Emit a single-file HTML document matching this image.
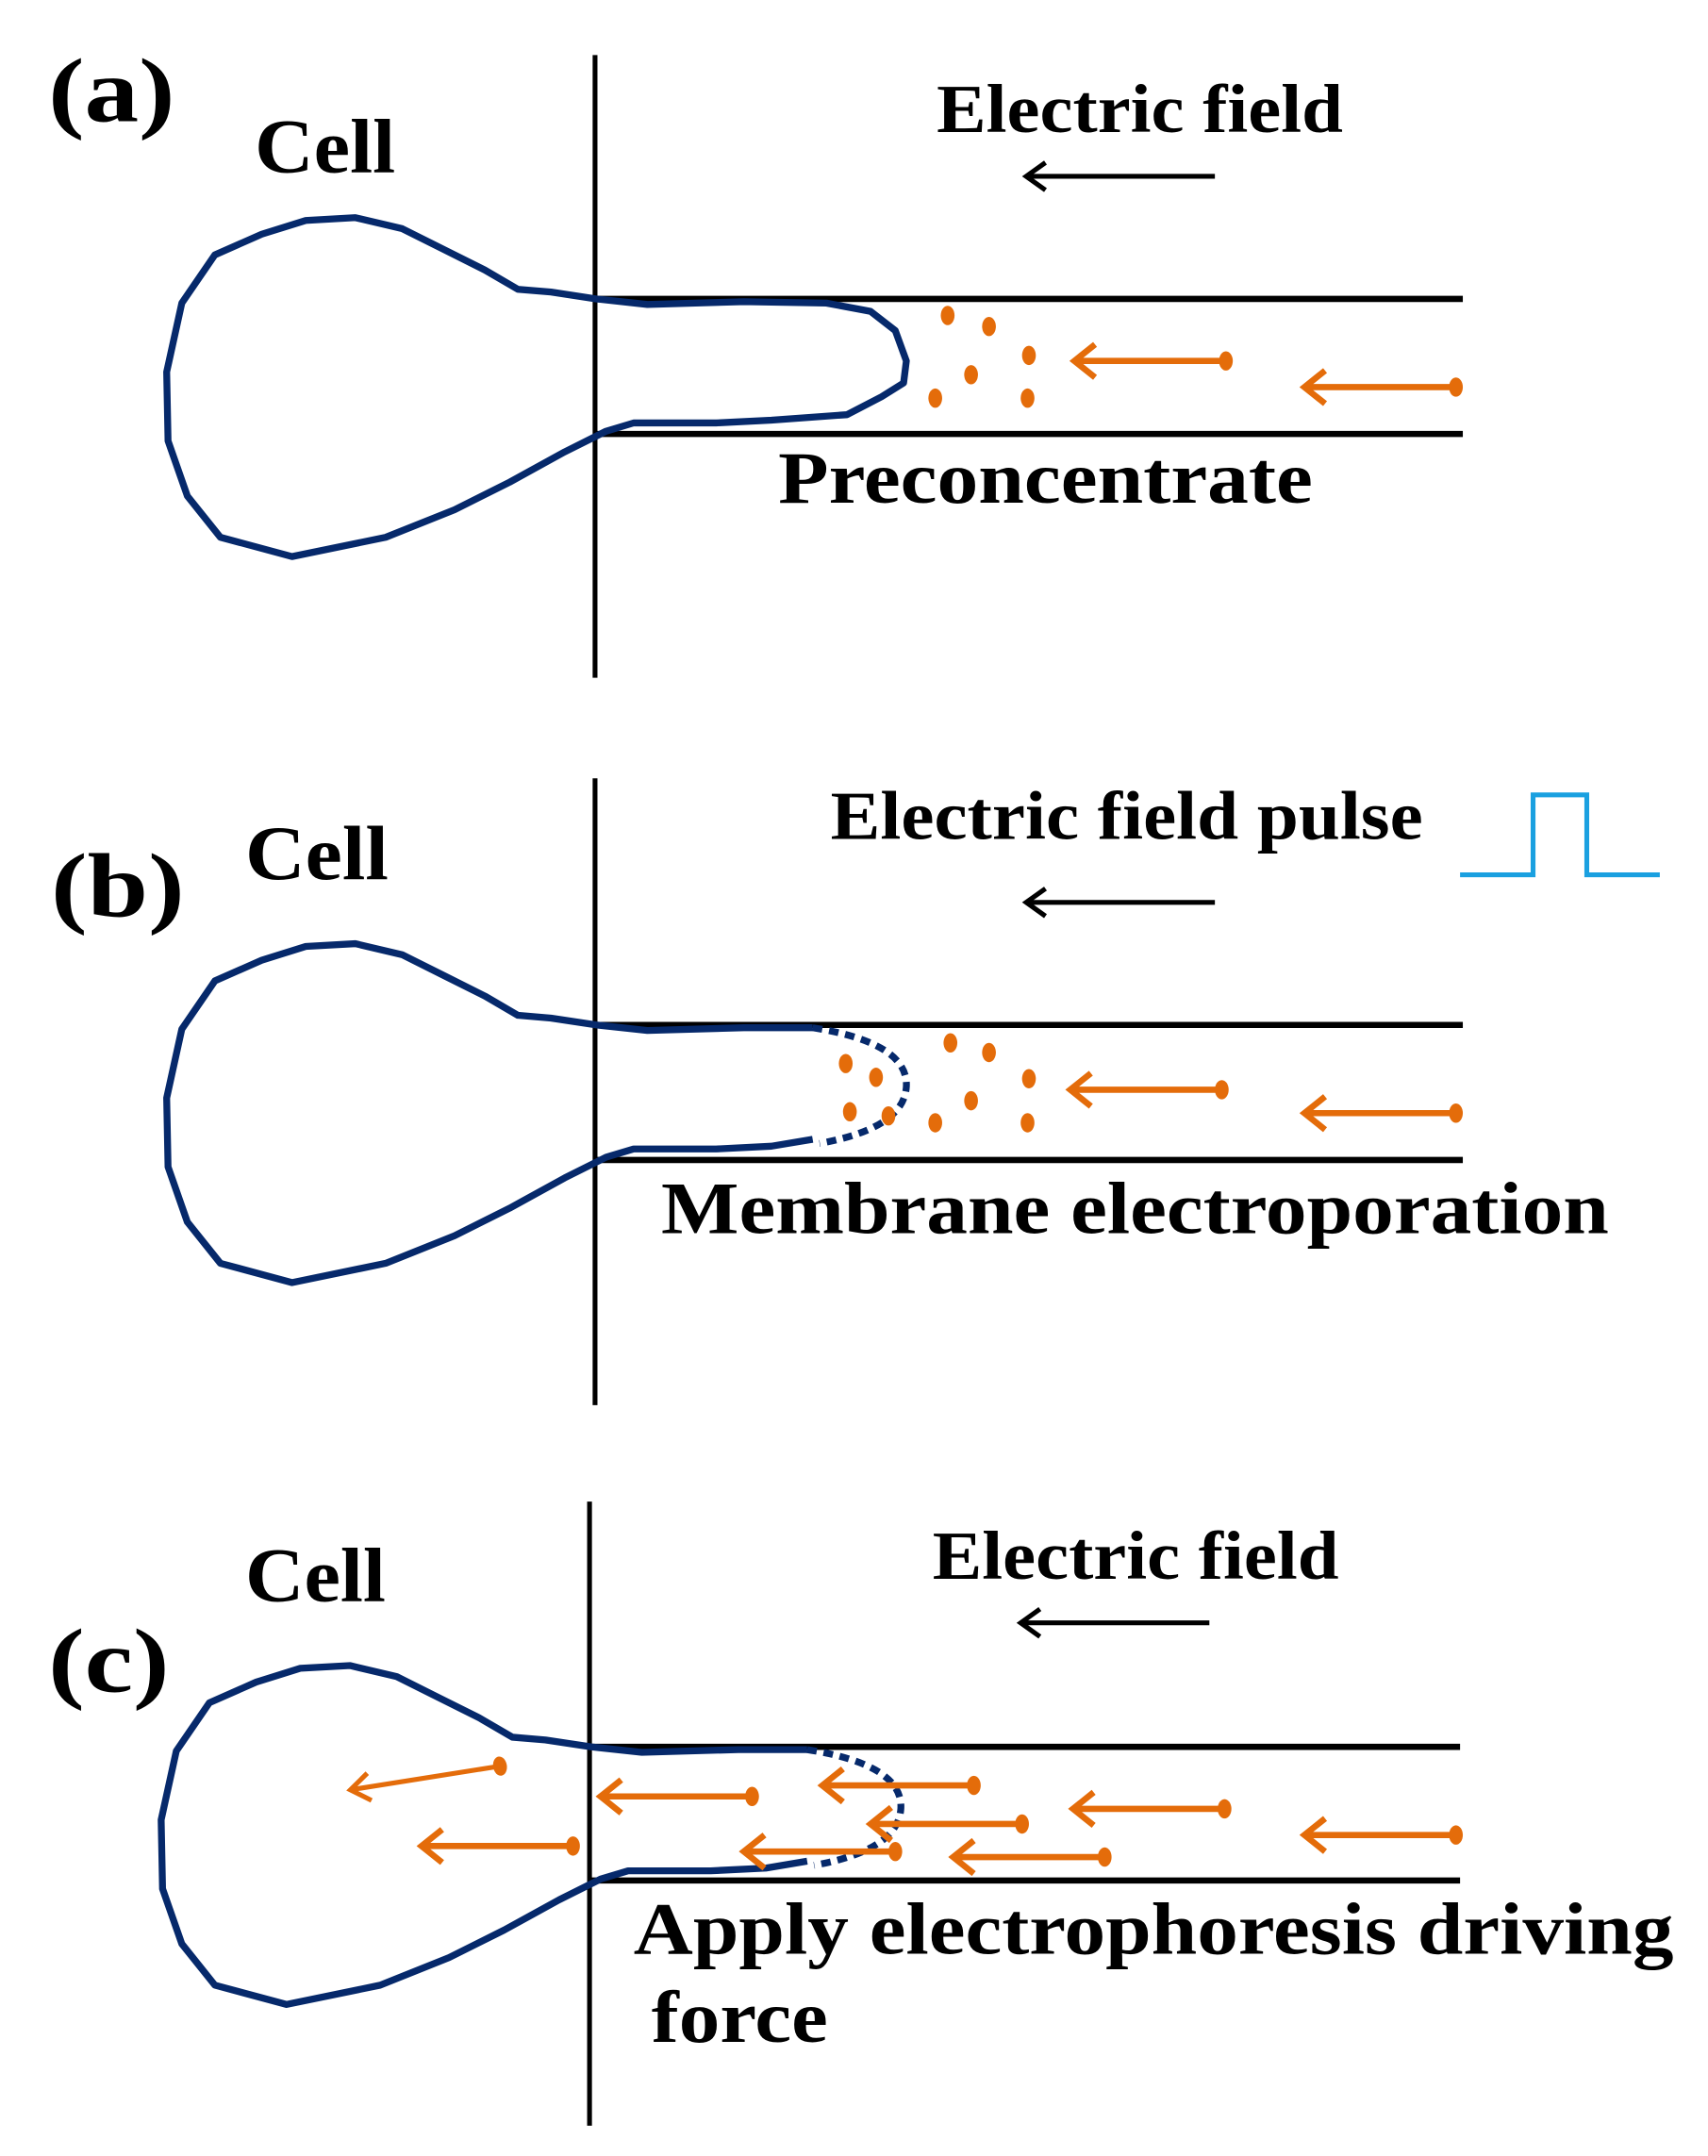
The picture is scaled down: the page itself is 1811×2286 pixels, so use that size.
<!DOCTYPE html>
<html><head><meta charset="utf-8"><style>
html,body{margin:0;padding:0;background:#fff;}
svg{display:block;}
text{font-family:"Liberation Serif",serif;font-weight:bold;fill:#000;}
</style></head><body>
<svg width="1811" height="2286" viewBox="0 0 1240 1565" preserveAspectRatio="none" xmlns="http://www.w3.org/2000/svg">
<defs>
<g id="cellfull">
<path d="M433,217 L400,212 L376,210 L352,196 L322,181 L292,166 L258,158 L222,160 L190,170 L156,185 L132,220 L121,270 L122,320 L136,360 L160,390 L212,404 L280,390 L330,370 L370,350 L410,328 L440,313 L460,307 L520,307 L560,305 L615,301 L640,288 L656,278 L658,262 L650,240 L632,226 L600,220 L540,219 L470,221 Z" fill="none" stroke="#06296b" stroke-width="5" stroke-linejoin="round"/>
</g>
<g id="cellopen">
<path d="M590,219 L540,219 L470,221 L433,217 L400,212 L376,210 L352,196 L322,181 L292,166 L258,158 L222,160 L190,170 L156,185 L132,220 L121,270 L122,320 L136,360 L160,390 L212,404 L280,390 L330,370 L370,350 L410,328 L440,313 L460,307 L520,307 L560,305 L590,300" fill="none" stroke="#06296b" stroke-width="5" stroke-linejoin="round"/>
<path d="M590,219 Q660,230 658,262 Q656,292 595,303" fill="none" stroke="#06296b" stroke-width="5" stroke-dasharray="7,5"/>
</g>
<g id="oarr"><line x1="0" y1="0" x2="-108" y2="0" stroke="#e46c0a" stroke-width="4.5"/><ellipse cx="0" cy="0" rx="5" ry="7" fill="#e46c0a"/><path d="M-95,-12 L-110,0 L-95,12" fill="none" stroke="#e46c0a" stroke-width="4.5"/></g>
<g id="karr"><line x1="0" y1="0" x2="-135" y2="0" stroke="#000" stroke-width="3.5"/><path d="M-123,-10 L-137,0 L-123,10" fill="none" stroke="#000" stroke-width="3.5"/></g>
</defs>

<!-- Panel a -->
<text x="35" y="88" font-size="66" textLength="92" lengthAdjust="spacingAndGlyphs">(a)</text>
<text x="185" y="125" font-size="56" textLength="102" lengthAdjust="spacingAndGlyphs">Cell</text>
<text x="680" y="96" font-size="50" textLength="295" lengthAdjust="spacingAndGlyphs">Electric field</text>
<use href="#karr" x="882" y="128"/>
<line x1="432" y1="40" x2="432" y2="492" stroke="#000" stroke-width="3.5"/>
<line x1="432" y1="217" x2="1062" y2="217" stroke="#000" stroke-width="4.5"/>
<line x1="432" y1="315" x2="1062" y2="315" stroke="#000" stroke-width="4.5"/>
<use href="#cellfull"/>
<g fill="#e46c0a"><ellipse cx="688" cy="229" rx="5" ry="7"/><ellipse cx="718" cy="237" rx="5" ry="7"/><ellipse cx="747" cy="258" rx="5" ry="7"/><ellipse cx="705" cy="272" rx="5" ry="7"/><ellipse cx="679" cy="289" rx="5" ry="7"/><ellipse cx="746" cy="289" rx="5" ry="7"/></g>
<use href="#oarr" x="890" y="262"/>
<use href="#oarr" x="1057" y="281"/>
<text x="565" y="365" font-size="54" textLength="388" lengthAdjust="spacingAndGlyphs">Preconcentrate</text>

<!-- Panel b -->
<text x="37" y="665" font-size="66" textLength="97" lengthAdjust="spacingAndGlyphs">(b)</text>
<text x="178" y="638" font-size="56" textLength="104" lengthAdjust="spacingAndGlyphs">Cell</text>
<text x="603" y="609" font-size="50" textLength="430" lengthAdjust="spacingAndGlyphs">Electric field pulse</text>
<polyline points="1060,635 1113,635 1113,577 1152,577 1152,635 1205,635" fill="none" stroke="#1aa0e0" stroke-width="3.5"/>
<use href="#karr" x="882" y="655"/>
<line x1="432" y1="565" x2="432" y2="1020" stroke="#000" stroke-width="3.5"/>
<line x1="432" y1="744" x2="1062" y2="744" stroke="#000" stroke-width="4.5"/>
<line x1="432" y1="842" x2="1062" y2="842" stroke="#000" stroke-width="4.5"/>
<use href="#cellopen" y="527"/>
<g fill="#e46c0a"><ellipse cx="614" cy="772" rx="5" ry="7"/><ellipse cx="636" cy="782" rx="5" ry="7"/><ellipse cx="617" cy="807" rx="5" ry="7"/><ellipse cx="645" cy="810" rx="5" ry="7"/><ellipse cx="690" cy="757" rx="5" ry="7"/><ellipse cx="718" cy="764" rx="5" ry="7"/><ellipse cx="747" cy="783" rx="5" ry="7"/><ellipse cx="705" cy="799" rx="5" ry="7"/><ellipse cx="679" cy="815" rx="5" ry="7"/><ellipse cx="746" cy="815" rx="5" ry="7"/></g>
<use href="#oarr" x="887" y="791"/>
<use href="#oarr" x="1057" y="808"/>
<text x="480" y="895" font-size="54" textLength="688" lengthAdjust="spacingAndGlyphs">Membrane electroporation</text>

<!-- Panel c -->
<text x="35" y="1228" font-size="66" textLength="88" lengthAdjust="spacingAndGlyphs">(c)</text>
<text x="178" y="1162" font-size="56" textLength="102" lengthAdjust="spacingAndGlyphs">Cell</text>
<text x="677" y="1146" font-size="50" textLength="295" lengthAdjust="spacingAndGlyphs">Electric field</text>
<use href="#karr" x="878" y="1178"/>
<line x1="428" y1="1090" x2="428" y2="1543" stroke="#000" stroke-width="3.5"/>
<line x1="428" y1="1268" x2="1060" y2="1268" stroke="#000" stroke-width="4.5"/>
<line x1="428" y1="1365" x2="1060" y2="1365" stroke="#000" stroke-width="4.5"/>
<use href="#cellopen" x="-4" y="1051"/>
<g transform="translate(363,1282) rotate(-9)"><line x1="0" y1="0" x2="-108" y2="0" stroke="#e46c0a" stroke-width="3.5"/><ellipse cx="0" cy="0" rx="5" ry="7" fill="#e46c0a"/><path d="M-96,-10 L-110,0 L-96,10" fill="none" stroke="#e46c0a" stroke-width="3.5"/></g>
<use href="#oarr" x="546" y="1304"/>
<use href="#oarr" x="416" y="1340"/>
<use href="#oarr" x="707" y="1296"/>
<use href="#oarr" x="742" y="1324"/>
<use href="#oarr" x="650" y="1344"/>
<use href="#oarr" x="889" y="1313"/>
<use href="#oarr" x="802" y="1348"/>
<use href="#oarr" x="1057" y="1332"/>
<text x="460" y="1418" font-size="54" textLength="755" lengthAdjust="spacingAndGlyphs">Apply electrophoresis driving</text>
<text x="473" y="1482" font-size="54" textLength="128" lengthAdjust="spacingAndGlyphs">force</text>
</svg>
</body></html>
